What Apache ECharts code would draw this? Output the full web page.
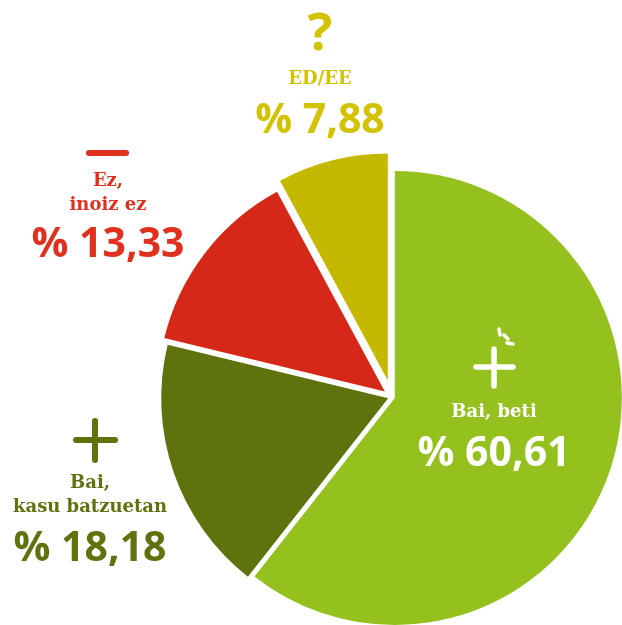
<!DOCTYPE html>
<html>
<head>
<meta charset="utf-8">
<script src="https://cdn.jsdelivr.net/npm/echarts@6/dist/echarts.min.js"></script>
<style>
  html, body { margin: 0; padding: 0; background: #fff; }
  #chart { width: 622px; height: 625px; }
</style>
</head>
<body>
<div id="chart"></div>
<script>
  // data
  const categories = ['Bai, beti', 'Bai, kasu batzuetan', 'Ez, inoiz ez', 'ED/EE'];
  const values = [60.61, 18.18, 13.33, 7.88];
  const labelLines = [['Bai, beti'], ['Bai,', 'kasu batzuetan'], ['Ez,', 'inoiz ez'], ['ED/EE']];

  // styling
  const sliceColors = ['#95c11f', '#5e730d', '#d52818', '#c4b900'];
  const textColors = ['#ffffff', '#5e730d', '#e0301e', '#d2c200'];
  const explode = [3, 4, 9, 17];
  const baseCenter = [392, 397];
  const radius = 227;

  const chart = echarts.init(document.getElementById('chart'));
  const total = values.reduce((a, b) => a + b, 0);

  // one pie series per slice so every slice can sit at its own offset
  let acc = 0;
  const series = values.map((v, i) => {
    const mid = (acc + v / 2) / total * Math.PI * 2; // clockwise from top
    acc += v;
    const cx = baseCenter[0] + explode[i] * Math.sin(mid);
    const cy = baseCenter[1] - explode[i] * Math.cos(mid);
    return {
      type: 'pie',
      center: [cx, cy],
      radius: [0, radius],
      startAngle: 90,
      clockwise: true,
      silent: true,
      animation: false,
      label: { show: false },
      labelLine: { show: false },
      itemStyle: { borderWidth: 0 },
      data: values.map((val, j) => ({
        name: categories[j],
        value: val,
        itemStyle: { color: j === i ? sliceColors[j] : 'rgba(0,0,0,0)' }
      }))
    };
  });

  const fmt = v => '% ' + v.toFixed(2).replace('.', ',');
  const serif = '"DejaVu Serif", serif';
  const sans = '"Open Sans", sans-serif';

  // label anchors: [x, first caption line y, percent y]
  const anchors = [[494, 412, 454], [90, 483, 549], [108, 181, 245], [320, 79, 121]];

  const graphic = [];
  anchors.forEach((a, i) => {
    labelLines[i].forEach((line, k) => {
      graphic.push({
        type: 'text', x: a[0], y: a[1] + k * 24, z: 100,
        style: {
          text: line, fill: textColors[i], font: 'bold 18px ' + serif,
          align: 'center', verticalAlign: 'middle',
          textAlign: 'center', textVerticalAlign: 'middle'
        }
      });
    });
    graphic.push({
      type: 'text', x: a[0], y: a[2], z: 100,
      style: {
        text: fmt(values[i]), fill: textColors[i],
        font: 'bold 41px ' + sans,
        align: 'center', verticalAlign: 'middle',
        textAlign: 'center', textVerticalAlign: 'middle'
      }
    });
  });

  const stroke = (x1, y1, x2, y2, color, w) => ({
    type: 'line', z: 100, shape: { x1, y1, x2, y2 },
    style: { stroke: color, lineWidth: w, lineCap: 'round' }
  });

  // icons
  graphic.push(
    // white plus with sparkle
    stroke(476, 367, 513, 367, '#ffffff', 5.5),
    stroke(494, 349, 494, 386, '#ffffff', 5.5),
    stroke(499, 329, 500, 335, '#ffffff', 3.5),
    stroke(504, 335, 508, 339, '#ffffff', 3.5),
    stroke(507, 343, 513, 344, '#ffffff', 3.5),
    // dark green plus
    stroke(76, 440, 115, 440, textColors[1], 6),
    stroke(95, 421, 95, 460, textColors[1], 6),
    // red minus
    stroke(89, 153, 126, 153, textColors[2], 6),
    // yellow question mark
    {
      type: 'text', x: 320, y: 35, z: 100,
      style: {
        text: '?', fill: textColors[3], font: 'bold 52px ' + sans,
        align: 'center', verticalAlign: 'middle',
        textAlign: 'center', textVerticalAlign: 'middle'
      }
    }
  );

  chart.setOption({
    animation: false,
    series: series,
    graphic: graphic
  });
</script>
</body>
</html>
